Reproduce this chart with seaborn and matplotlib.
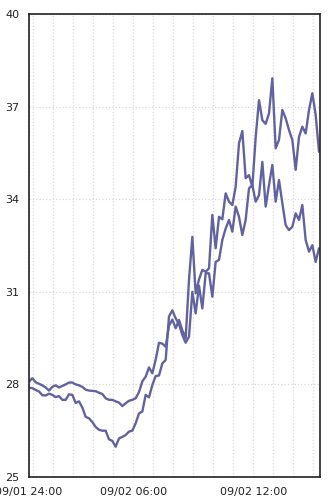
import matplotlib
matplotlib.use("Agg")
import matplotlib.pyplot as plt
import matplotlib.dates as mdates
import seaborn as sns
import pandas as pd
import numpy as np

# ---- data ----
start_time = "2023-09-02 00:47"
n_points = 88
series_a = [28.09, 28.20, 28.07, 28.02, 27.97, 27.90, 27.80, 27.92, 27.97, 27.90,
            27.95, 28.00, 28.06, 28.06, 28.00, 27.97, 27.92, 27.83, 27.80, 27.79,
            27.78, 27.73, 27.69, 27.55, 27.50, 27.50, 27.45, 27.41, 27.30, 27.39,
            27.47, 27.50, 27.55, 27.75, 28.10, 28.25, 28.55, 28.36, 28.80, 29.35,
            29.32, 29.22, 29.90, 30.10, 29.82, 30.09, 29.75, 29.50, 31.38, 32.78,
            30.95, 31.40, 31.71, 31.65, 31.76, 33.49, 32.41, 33.43, 33.35, 34.19,
            33.92, 33.81, 34.40, 35.81, 36.21, 34.68, 34.78, 34.40, 36.00, 37.21,
            36.56, 36.44, 36.78, 37.92, 35.65, 35.92, 36.89, 36.62, 36.24, 35.92,
            34.95, 36.02, 36.35, 36.13, 36.89, 37.43, 36.73, 35.54]
series_b = [27.89, 27.88, 27.82, 27.77, 27.65, 27.64, 27.70, 27.66, 27.59, 27.62,
            27.50, 27.50, 27.68, 27.66, 27.40, 27.45, 27.25, 26.95, 26.90, 26.78,
            26.62, 26.53, 26.50, 26.50, 26.22, 26.17, 25.98, 26.25, 26.30, 26.36,
            26.47, 26.50, 26.74, 27.06, 27.12, 27.66, 27.58, 27.98, 28.27, 28.29,
            28.68, 28.79, 30.20, 30.40, 30.14, 29.95, 29.60, 29.35, 29.55, 31.00,
            30.30, 31.20, 30.46, 31.60, 31.60, 30.84, 31.97, 32.03, 32.68, 33.05,
            33.33, 32.95, 33.76, 33.43, 32.84, 33.33, 34.35, 34.46, 33.92, 34.13,
            35.21, 33.76, 34.46, 35.11, 33.92, 34.62, 33.87, 33.16, 33.00, 33.11,
            33.54, 33.33, 33.81, 32.68, 32.30, 32.51, 31.97, 32.41]
y_ticks = [25, 28, 31, 34, 37, 40]
x_tick_times = ["2023-09-02 00:47", "2023-09-02 06:00", "2023-09-02 12:00"]
x_tick_labels = ["09/01 24:00", "09/02 06:00", "09/02 12:00"]
x_end = "2023-09-02 15:20"

times = pd.date_range(start_time, periods=n_points, freq="10min")
df = pd.DataFrame({
    "time": list(times) + list(times),
    "value": series_a + series_b,
    "series": ["A"] * n_points + ["B"] * n_points,
})

sns.set_theme(style="white")
plt.rcParams['font.family'] = ['DejaVu Sans']

line_color = "#62629f"
fig = plt.figure(figsize=(3.28, 5.04), dpi=100)
ax = fig.add_axes([29 / 328, 27 / 504, 291 / 328, 463 / 504])

sns.lineplot(data=df, x="time", y="value", hue="series",
             palette=[line_color, line_color], legend=False,
             linewidth=1.7, ax=ax)

ax.set_ylim(25, 40)
ax.set_yticks(y_ticks)
ax.set_xlim(pd.Timestamp(start_time), pd.Timestamp(x_end))
ax.set_xticks([pd.Timestamp(t) for t in x_tick_times])
ax.set_xticklabels(x_tick_labels)
ax.xaxis.set_minor_locator(mdates.HourLocator())
ax.set_xlabel("")
ax.set_ylabel("")

ax.grid(which="both", axis="x", linestyle=":", color="#d9d9d9", linewidth=0.9)
ax.grid(which="major", axis="y", linestyle=":", color="#d9d9d9", linewidth=0.9)
ax.set_axisbelow(True)

ax.tick_params(axis="both", which="major", direction="out", length=5, width=1,
               color="#222222", labelsize=8, labelcolor="#222222", pad=2)
ax.tick_params(axis="both", which="minor", length=0)
for s in ax.spines.values():
    s.set_visible(True)
    s.set_color("#222222")
    s.set_linewidth(1.2)

fig.savefig("out.png", dpi=100)
